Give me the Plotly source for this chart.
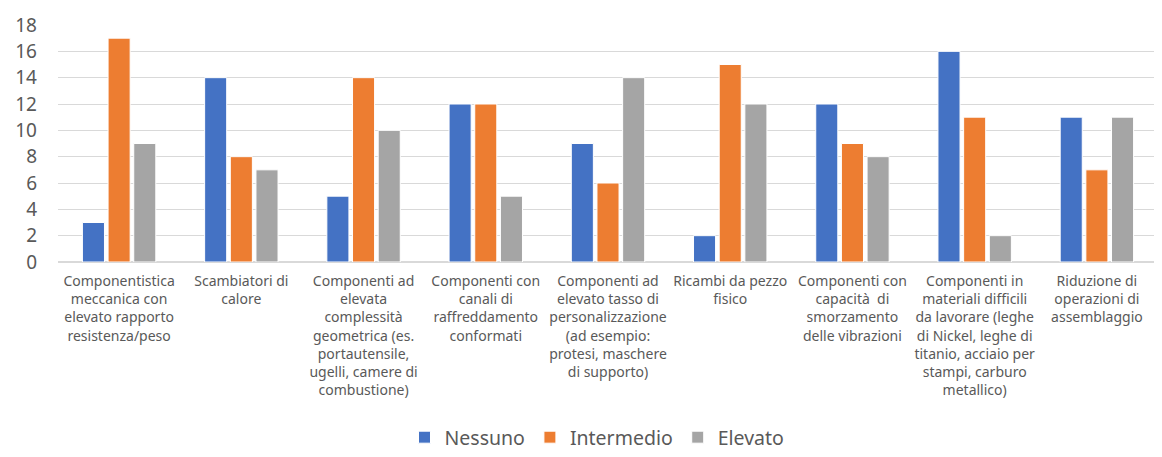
import plotly.graph_objects as go

categories = [
    "Componentistica<br>meccanica con<br>elevato rapporto<br>resistenza/peso",
    "Scambiatori di<br>calore",
    "Componenti ad<br>elevata<br>complessità<br>geometrica (es.<br>portautensile,<br>ugelli, camere di<br>combustione)",
    "Componenti con<br>canali di<br>raffreddamento<br>conformati",
    "Componenti ad<br>elevato tasso di<br>personalizzazione<br>(ad esempio:<br>protesi, maschere<br>di supporto)",
    "Ricambi da pezzo<br>fisico",
    "Componenti con<br>capacità  di<br>smorzamento<br>delle vibrazioni",
    "Componenti in<br>materiali difficili<br>da lavorare (leghe<br>di Nickel, leghe di<br>titanio, acciaio per<br>stampi, carburo<br>metallico)",
    "Riduzione di<br>operazioni di<br>assemblaggio",
]
nessuno = [3, 14, 5, 12, 9, 2, 12, 16, 11]
intermedio = [17, 8, 14, 12, 6, 15, 9, 11, 7]
elevato = [9, 7, 10, 5, 14, 12, 8, 2, 11]

series = [
    ("Nessuno", nessuno, "#4472C4"),
    ("Intermedio", intermedio, "#ED7D31"),
    ("Elevato", elevato, "#A5A5A5"),
]

fig = go.Figure()
for name, vals, color in series:
    fig.add_trace(go.Bar(
        x=list(range(len(categories))), y=vals, name=name,
        marker=dict(color=color, line=dict(color="white", width=1)),
    ))

# page body has an 8px margin, so the figure is sized to fit inside the window
fig.update_layout(
    width=1154, height=449,
    margin=dict(l=50, r=4, t=17, b=195),
    paper_bgcolor="white", plot_bgcolor="white",
    barmode="group", bargap=0.37, bargroupgap=0.14,
    font=dict(family="Noto Sans, Open Sans, sans-serif", color="#595959"),
    legend=dict(orientation="h", x=0.49, xanchor="center",
                yref="container", y=0.0, yanchor="bottom",
                font=dict(size=19.5, color="#595959"), traceorder="normal",
                itemwidth=30),
    showlegend=True,
)
fig.update_xaxes(
    tickmode="array", tickvals=list(range(len(categories))), ticktext=categories,
    tickfont=dict(size=14, color="#595959"), showgrid=False, showline=False,
    ticks="", range=[-0.5, len(categories) - 0.5], automargin=False,
    ticklabelstandoff=9,
)
fig.update_yaxes(
    range=[0, 18], dtick=2, tickfont=dict(size=19, color="#595959"),
    showgrid=True, gridcolor="#D9D9D9", gridwidth=1,
    zeroline=True, zerolinecolor="#D9D9D9", zerolinewidth=1.5,
    ticks="", ticklabelstandoff=20, automargin=False,
)

fig.write_html("out.html")
